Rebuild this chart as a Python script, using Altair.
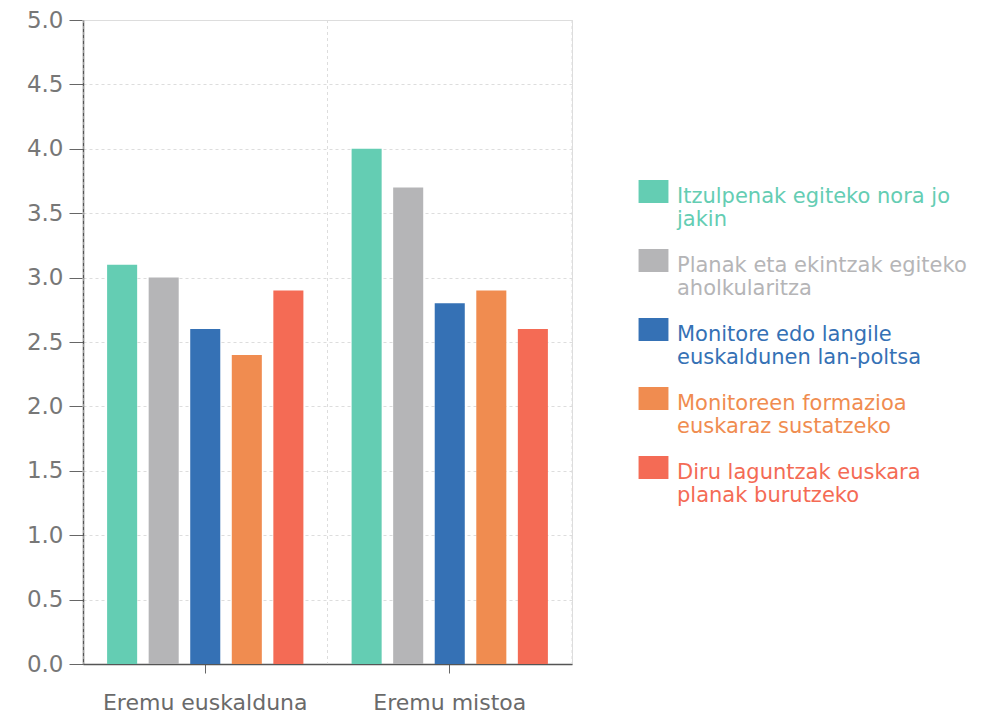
import altair as alt
import pandas as pd

# Survey scores by area type and support measure
groups = ["Eremu euskalduna", "Eremu mistoa"]
measures = [
    "Itzulpenak egiteko nora jo jakin",
    "Planak eta ekintzak egiteko aholkularitza",
    "Monitore edo langile euskaldunen lan-poltsa",
    "Monitoreen formazioa euskaraz sustatzeko",
    "Diru laguntzak euskara planak burutzeko",
]
legend_lines = [
    ["Itzulpenak egiteko nora jo", "jakin"],
    ["Planak eta ekintzak egiteko", "aholkularitza"],
    ["Monitore edo langile", "euskaldunen lan-poltsa"],
    ["Monitoreen formazioa", "euskaraz sustatzeko"],
    ["Diru laguntzak euskara", "planak burutzeko"],
]
values_euskalduna = [3.1, 3.0, 2.6, 2.4, 2.9]
values_mistoa = [4.0, 3.7, 2.8, 2.9, 2.6]
colors = ["#64cdb3", "#b5b5b7", "#3571b5", "#f08c50", "#f46b55"]

rows = []
for g, vals in zip(groups, [values_euskalduna, values_mistoa]):
    for m, v in zip(measures, vals):
        rows.append({"group": g, "measure": m, "value": v})
df = pd.DataFrame(rows)

# label expression that splits each legend entry onto two lines
label_map = "{" + ",".join(
    f"'{m}': {legend_lines[i]!r}" for i, m in enumerate(measures)
) + "}"

FONT = "DejaVu Sans"

x_axis = alt.Axis(
    title=None,
    labelAngle=0,
    labelAlign="center",
    labelFontSize=22,
    labelLimit=300,
    labelColor="#6a6a6a",
    labelPadding=19,
    tickSize=9,
    tickColor="#666666",
    domainColor="#555555",
    domainWidth=1.5,
    grid=False,
    labelFont=FONT,
)

bars = alt.Chart(df).mark_bar().encode(
    x=alt.X(
        "group:N",
        sort=groups,
        scale=alt.Scale(paddingInner=0, paddingOuter=0),
        axis=x_axis,
    ),
    xOffset=alt.XOffset(
        "measure:N",
        sort=measures,
        scale=alt.Scale(paddingInner=0.277, paddingOuter=0.58),
    ),
    y=alt.Y(
        "value:Q",
        scale=alt.Scale(domain=[0, 5]),
        axis=alt.Axis(
            title=None,
            values=[0, 0.5, 1, 1.5, 2, 2.5, 3, 3.5, 4, 4.5, 5],
            format=".1f",
            labelFontSize=23,
            labelColor="#777777",
            labelPadding=6,
            tickSize=14,
            tickColor="#666666",
            domainColor="#555555",
            domainWidth=1.5,
            grid=True,
            gridColor="#dddddd",
            gridDash=[3, 3],
            labelFont=FONT,
        ),
    ),
    color=alt.Color(
        "measure:N",
        sort=measures,
        scale=alt.Scale(domain=measures, range=colors),
        legend=alt.Legend(
            title=None,
            orient="none",
            legendX=559,
            legendY=154,
            symbolType="M-1.3,-0.48H1.3V1.52H-1.3Z",
            symbolSize=529,
            symbolStrokeWidth=0,
            labelFontSize=21,
            labelFont=FONT,
            labelExpr=f"{label_map}[datum.value]",
            labelLimit=400,
            labelOffset=12,
            rowPadding=13,
            labelBaseline="top",
            labelColor=alt.ExprRef(expr="scale('color', datum.value)"),
        ),
    ),
)

# dashed separators at the band edges
edge_df = pd.DataFrame({"group": groups})
edges_start = alt.Chart(edge_df).mark_rule(
    color="#dddddd", strokeDash=[3, 3]
).encode(x=alt.X("group:N", sort=groups, bandPosition=0, axis=x_axis))
edges_end = alt.Chart(edge_df).mark_rule(
    color="#dddddd", strokeDash=[3, 3]
).encode(x=alt.X("group:N", sort=groups, bandPosition=1, axis=x_axis))

chart = (
    alt.layer(bars, edges_start, edges_end)
    .properties(
        width=489,
        height=644,
        autosize=alt.AutoSizeParams(type="none"),
        padding={"left": 83, "top": 20, "right": 428, "bottom": 51},
    )
    .configure_view(stroke=None)
    .configure(background="white")
)

chart.save("out.html", embed_options={"renderer": "svg", "actions": False})
